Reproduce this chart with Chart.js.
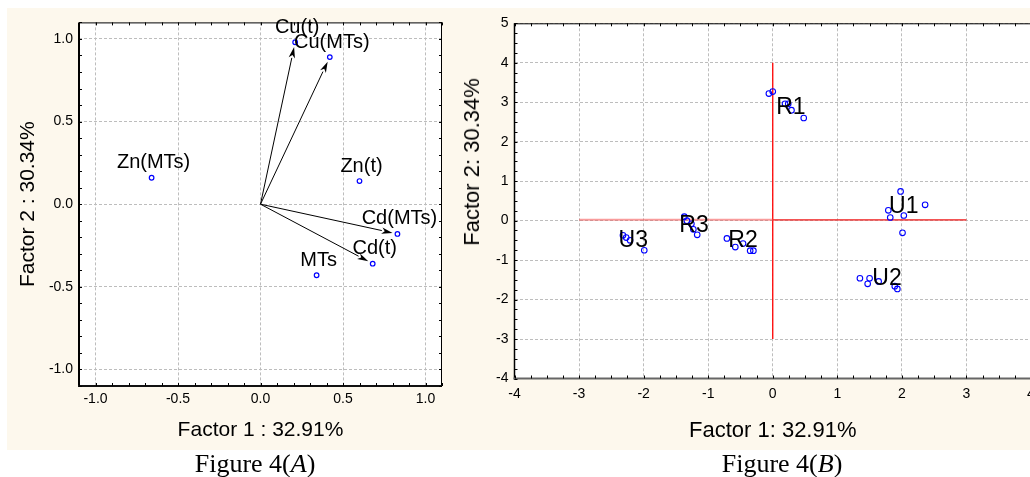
<!DOCTYPE html>
<html><head><meta charset="utf-8">
<script src="https://cdn.jsdelivr.net/npm/chart.js@4.4.1/dist/chart.umd.min.js"></script>
<style>
html,body{margin:0;padding:0;background:#fff;width:1030px;height:477px;overflow:hidden;position:relative;font-family:"Liberation Sans",Arial,sans-serif;}
#panel{position:absolute;left:7px;top:8px;width:1023px;height:442px;background:#fdf8ed;}
#wrapA{position:absolute;left:7px;top:8px;width:448px;height:442px;}
#wrapB{position:absolute;left:458px;top:8px;width:600px;height:442px;}
.cap{position:absolute;top:464px;font-family:"Liberation Serif","Times New Roman",serif;font-size:26px;color:#000;transform:translate(-50%,-50%);white-space:nowrap;}
#ytitleB{position:absolute;left:472px;top:162px;transform:translate(-50%,-50%) rotate(-90deg);font-size:22px;color:#000;white-space:nowrap;}
</style></head>
<body>
<div id="panel"></div>
<div id="wrapA"><canvas id="cA" width="448" height="442"></canvas></div>
<div id="wrapB"><canvas id="cB" width="600" height="442"></canvas></div>
<div id="ytitleB">Factor 2: 30.34%</div>
<div class="cap" style="left:255px">Figure 4(<i>A</i>)</div>
<div class="cap" style="left:782px">Figure 4(<i>B</i>)</div>
<script>
// ---------- Figure 4(A): factor loadings ----------
const varNames = ['Cu(t)', 'Cu(MTs)', 'Zn(MTs)', 'Zn(t)', 'Cd(MTs)', 'Cd(t)', 'MTs'];
const loadF1 = [0.21, 0.42, -0.66, 0.60, 0.83, 0.68, 0.34];
const loadF2 = [0.98, 0.89, 0.16, 0.14, -0.18, -0.36, -0.43];
const hasArrow = [true, true, false, false, true, true, false];
const loadTicks = [-1.0, -0.5, 0.0, 0.5, 1.0];

// ---------- Figure 4(B): factor scores by group ----------
const groupNames = ['R1', 'U1', 'U2', 'R3', 'U3', 'R2'];
const R1_f1 = [-0.06, 0.00, 0.19, 0.24, 0.29, 0.48];
const R1_f2 = [3.22, 3.27, 2.96, 2.96, 2.80, 2.60];
const U1_f1 = [1.98, 2.36, 1.79, 1.82, 2.03, 2.01];
const U1_f2 = [0.74, 0.40, 0.26, 0.08, 0.13, -0.31];
const U2_f1 = [1.35, 1.50, 1.47, 1.64, 1.89, 1.93];
const U2_f2 = [-1.46, -1.46, -1.60, -1.54, -1.66, -1.73];
const R3_f1 = [-1.37, -1.33, -1.26, -1.23, -1.17];
const R3_f2 = [0.10, 0.00, -0.08, -0.22, -0.36];
const U3_f1 = [-2.32, -2.27, -2.21, -1.99];
const U3_f2 = [-0.37, -0.43, -0.50, -0.75];
const R2_f1 = [-0.71, -0.58, -0.46, -0.35, -0.30];
const R2_f2 = [-0.45, -0.67, -0.58, -0.76, -0.76];
const groupLabelF1 = [0.28, 2.03, 1.77, -1.22, -2.16, -0.46];
const groupLabelF2 = [2.85, 0.35, -1.47, -0.13, -0.51, -0.52];
const scoreTicksX = [-4, -3, -2, -1, 0, 1, 2, 3, 4];
const scoreTicksY = [-4, -3, -2, -1, 0, 1, 2, 3, 4, 5];
const refH_f1 = [-3, 0, 3];
const refH_f2 = 0.02;
const refV_f2 = [-3, 4];

const FONT = '"Liberation Sans", Arial, sans-serif';
const zip = (xs, ys) => xs.map((x, i) => ({x, y: ys[i]}));

function framePlugin(cfg) {
  return {
    id: 'frame',
    beforeDraw(chart) {
      const {ctx, chartArea: a} = chart;
      ctx.save();
      ctx.fillStyle = '#fff';
      ctx.fillRect(a.left, a.top, a.right - a.left, a.bottom - a.top);
      ctx.restore();
    },
    afterDraw(chart) {
      const {ctx, chartArea: a, scales} = chart;
      ctx.save();
      ctx.strokeStyle = '#000';
      ctx.lineWidth = 1;
      ctx.beginPath();
      ctx.moveTo(a.left, a.top + 0.5); ctx.lineTo(a.right, a.top + 0.5);
      ctx.moveTo(a.right - 0.5, a.top); ctx.lineTo(a.right - 0.5, a.bottom);
      ctx.stroke();
      ctx.lineWidth = cfg.leftW;
      ctx.beginPath(); ctx.moveTo(a.left, a.top); ctx.lineTo(a.left, a.bottom + 1); ctx.stroke();
      ctx.strokeStyle = cfg.bottomColor;
      ctx.lineWidth = 2;
      ctx.beginPath(); ctx.moveTo(a.left - 1, a.bottom); ctx.lineTo(a.right, a.bottom); ctx.stroke();
      ctx.strokeStyle = '#000';
      ctx.lineWidth = 1;
      const xs = scales.x, ys = scales.y;
      ctx.beginPath();
      for (let k = Math.ceil(xs.min / cfg.minorX - 1e-6); k * cfg.minorX <= xs.max + 1e-9; k++) {
        const px = Math.round(xs.getPixelForValue(k * cfg.minorX)) + 0.5;
        ctx.moveTo(px, a.top); ctx.lineTo(px, a.top + 3);
        ctx.moveTo(px, a.bottom); ctx.lineTo(px, a.bottom - 3);
      }
      for (let k = Math.ceil(ys.min / cfg.minorY - 1e-6); k * cfg.minorY <= ys.max + 1e-9; k++) {
        const py = Math.round(ys.getPixelForValue(k * cfg.minorY)) + 0.5;
        ctx.moveTo(a.left, py); ctx.lineTo(a.left + 3, py);
        if (cfg.rightTicks) { ctx.moveTo(a.right, py); ctx.lineTo(a.right - 3, py); }
      }
      ctx.stroke();
      ctx.restore();
    }
  };
}

const arrowLabelPlugin = {
  id: 'arrowsLabels',
  afterDatasetsDraw(chart) {
    const {ctx, scales: {x, y}} = chart;
    const ox = x.getPixelForValue(0), oy = y.getPixelForValue(0);
    ctx.save();
    ctx.strokeStyle = '#000'; ctx.fillStyle = '#000'; ctx.lineWidth = 1;
    varNames.forEach((n, i) => {
      if (!hasArrow[i]) return;
      const tx = x.getPixelForValue(loadF1[i]), ty = y.getPixelForValue(loadF2[i]);
      const dx = tx - ox, dy = ty - oy, L = Math.hypot(dx, dy);
      const ux = dx / L, uy = dy / L;
      const ex = tx - ux * 5, ey = ty - uy * 5;
      const hl = 11, hw = 3.2;
      const bx = ex - ux * hl, by = ey - uy * hl;
      ctx.beginPath(); ctx.moveTo(ox, oy); ctx.lineTo(bx, by); ctx.stroke();
      ctx.beginPath();
      ctx.moveTo(ex, ey);
      ctx.lineTo(bx - uy * hw, by + ux * hw);
      ctx.lineTo(bx + ux * 3, by + uy * 3);
      ctx.lineTo(bx + uy * hw, by - ux * hw);
      ctx.closePath(); ctx.fill();
    });
    ctx.font = '20px ' + FONT;
    ctx.textAlign = 'center'; ctx.textBaseline = 'middle';
    varNames.forEach((n, i) => {
      ctx.fillText(n, x.getPixelForValue(loadF1[i]) + 2, y.getPixelForValue(loadF2[i]) - 15);
    });
    ctx.restore();
  }
};

const groupLabelPlugin = {
  id: 'groupLabels',
  afterDatasetsDraw(chart) {
    const {ctx, scales: {x, y}} = chart;
    ctx.save();
    ctx.font = '23px ' + FONT;
    ctx.fillStyle = '#000';
    ctx.textAlign = 'center'; ctx.textBaseline = 'middle';
    groupNames.forEach((g, i) => {
      ctx.fillText(g, x.getPixelForValue(groupLabelF1[i]), y.getPixelForValue(groupLabelF2[i]));
    });
    ctx.restore();
  }
};

const tickFont = {family: FONT, size: 14};
const gridCommon = {color: '#bdbdbd', lineWidth: 1, drawTicks: false};

new Chart(document.getElementById('cA'), {
  type: 'scatter',
  data: {
    datasets: [{
      data: zip(loadF1, loadF2),
      pointStyle: 'circle', pointRadius: 2.3,
      borderColor: '#0000ff', backgroundColor: 'rgba(0,0,0,0)', borderWidth: 1.2
    }]
  },
  options: {
    responsive: false, animation: false,
    layout: {padding: {left: 0, top: 14, right: 13, bottom: 0}},
    plugins: {legend: {display: false}, tooltip: {enabled: false}},
    scales: {
      x: {
        type: 'linear', min: -1.1, max: 1.1,
        afterBuildTicks: s => { s.ticks = loadTicks.map(v => ({value: v})); },
        afterFit: s => { s.height = 64; },
        grid: gridCommon, border: {display: false, dash: [3, 2]},
        ticks: {font: tickFont, color: '#000', padding: 5, maxRotation: 0, callback: v => Number(v).toFixed(1)},
        title: {display: true, text: 'Factor 1 : 32.91%', color: '#000',
                font: {family: FONT, size: 21, lineHeight: 1.2}, padding: {top: 0, bottom: 7.4}}
      },
      y: {
        type: 'linear', min: -1.1, max: 1.1,
        afterBuildTicks: s => { s.ticks = loadTicks.map(v => ({value: v})); },
        afterFit: s => { s.width = 72; },
        grid: gridCommon, border: {display: false, dash: [3, 2]},
        ticks: {font: tickFont, color: '#000', padding: 6, callback: v => Number(v).toFixed(1)},
        title: {display: true, text: 'Factor 2 : 30.34%', color: '#000',
                font: {family: FONT, size: 21, lineHeight: 1.2}, padding: {top: 8.4, bottom: 0}}
      }
    }
  },
  plugins: [framePlugin({minorX: 0.1, minorY: 0.1, rightTicks: true, leftW: 2, bottomColor: '#111'}), arrowLabelPlugin]
});

const pointStyle = {pointStyle: 'circle', pointRadius: 2.8, borderColor: '#0000ff',
                    backgroundColor: 'rgba(0,0,0,0)', borderWidth: 1.1, showLine: false};
const groupData = [[R1_f1, R1_f2], [U1_f1, U1_f2], [U2_f1, U2_f2], [R3_f1, R3_f2], [U3_f1, U3_f2], [R2_f1, R2_f2]];
const dsB = groupData.map((g, i) => Object.assign({label: groupNames[i], data: zip(g[0], g[1]), order: 0}, pointStyle));
dsB.push({type: 'line', label: 'h-left', data: [{x: refH_f1[0], y: refH_f2}, {x: refH_f1[1], y: refH_f2}],
          borderColor: 'rgba(245,90,90,0.6)', borderWidth: 2, pointRadius: 0, order: 2});
dsB.push({type: 'line', label: 'h-right', data: [{x: refH_f1[1], y: refH_f2}, {x: refH_f1[2], y: refH_f2}],
          borderColor: 'rgba(240,40,40,0.8)', borderWidth: 1.6, pointRadius: 0, order: 2});
dsB.push({type: 'line', label: 'v', data: [{x: 0, y: refV_f2[0]}, {x: 0, y: refV_f2[1]}],
          borderColor: '#ff0000', borderWidth: 1.3, pointRadius: 0, order: 2});

new Chart(document.getElementById('cB'), {
  type: 'scatter',
  data: {datasets: dsB},
  options: {
    responsive: false, animation: false,
    layout: {padding: {left: 0, top: 15.3, right: 27, bottom: 0}},
    plugins: {legend: {display: false}, tooltip: {enabled: false}},
    scales: {
      x: {
        type: 'linear', min: -4, max: 4,
        afterBuildTicks: s => { s.ticks = scoreTicksX.map(v => ({value: v})); },
        afterFit: s => { s.height = 71.5; },
        grid: gridCommon, border: {display: false, dash: [3, 2]},
        ticks: {font: tickFont, color: '#000', padding: 7, maxRotation: 0},
        title: {display: true, text: 'Factor 1: 32.91%', color: '#000',
                font: {family: FONT, size: 22, lineHeight: 1.2}, padding: {top: 0, bottom: 6}}
      },
      y: {
        type: 'linear', min: -4, max: 5,
        afterBuildTicks: s => { s.ticks = scoreTicksY.map(v => ({value: v})); },
        afterFit: s => { s.width = 56.5; },
        grid: gridCommon, border: {display: false, dash: [3, 2]},
        ticks: {font: tickFont, color: '#000', padding: 6}
      }
    }
  },
  plugins: [framePlugin({minorX: 0.25, minorY: 0.25, rightTicks: false, leftW: 1.5, bottomColor: '#666'}), groupLabelPlugin]
});
</script>
</body></html>
